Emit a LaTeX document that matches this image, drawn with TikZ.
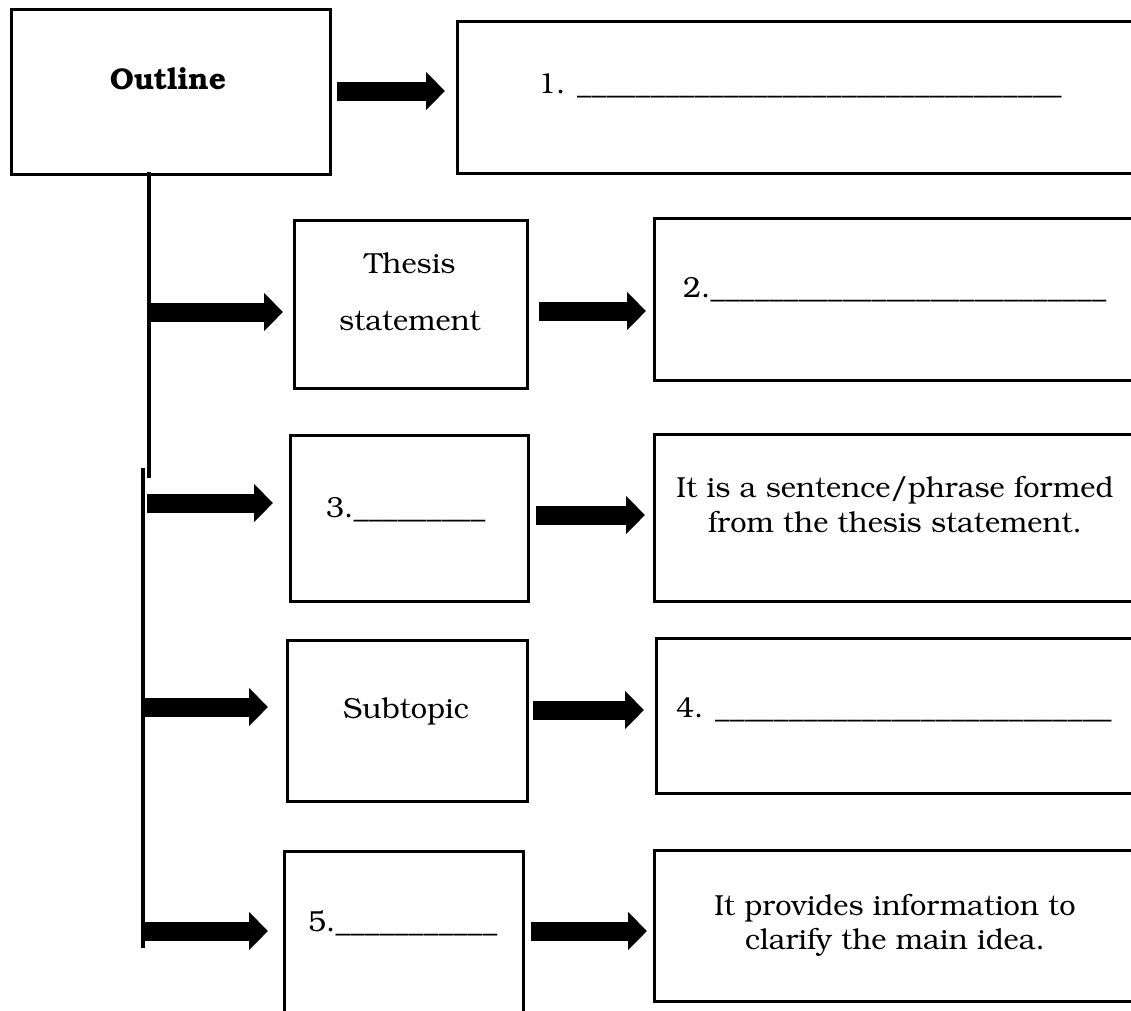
\documentclass[tikz,border=0pt]{standalone}
\usepackage[T1]{fontenc}
\usepackage{bookman}
\usetikzlibrary{arrows.meta}
\newcommand\blankfill[1]{\makebox[#1][l]{\xleaders\hbox{\_}\hfill}}
\begin{document}
\begin{tikzpicture}[x=1pt,y=-1pt,
  box/.style={draw,line width=2.6pt,rectangle,inner sep=0pt,anchor=north west},
  lbl/.style={inner sep=0pt,font=\fontsize{29}{35}\selectfont},
  blk/.style={line width=19pt,-{Triangle[length=19pt,width=37pt]}},
  bar/.style={line width=4pt}]
\useasboundingbox (0,0) rectangle (1131,1010);
\clip (0,0) rectangle (1131,1010);
\fill[white] (0,0) rectangle (1131,1010);

% boxes
\node[box,minimum width=319pt,minimum height=165pt] (outline) at (10,8) {};
\node[box,minimum width=700pt,minimum height=152pt] (b1) at (456,20) {};
\node[box,minimum width=233pt,minimum height=168pt] (thesis) at (293,219) {};
\node[box,minimum width=500pt,minimum height=162pt] (b2) at (653,217) {};
\node[box,minimum width=238pt,minimum height=166pt] (b3) at (289,434) {};
\node[box,minimum width=500pt,minimum height=167pt] (b3r) at (653,433) {};
\node[box,minimum width=240pt,minimum height=161pt] (sub) at (286,639) {};
\node[box,minimum width=500pt,minimum height=155pt] (b4) at (655,637) {};
\node[box,minimum width=239pt,minimum height=200pt] (b5) at (283,850) {};
\node[box,minimum width=500pt,minimum height=151pt] (b5r) at (653,849) {};

% texts
\node[lbl,anchor=base,font=\fontsize{30}{36}\selectfont\bfseries] (toutline) at (168,89) {Outline};
\node[lbl,anchor=base west] (t1) at (538,93) {1. \blankfill{485pt}};
\node[lbl,anchor=base] (tthesis1) at (410,273) {Thesis};
\node[lbl,anchor=base] (tthesis2) at (410,330) {statement};
\node[lbl,anchor=base west] (t2) at (683,297) {2.\blankfill{396pt}};
\node[lbl,anchor=base west] (t3) at (326,517) {3.\blankfill{132pt}};
\node[lbl,anchor=base] (t3r1) at (895,497) {It is a sentence/phrase formed};
\node[lbl,anchor=base] (t3r2) at (895,532) {from the thesis statement.};
\node[lbl,anchor=base] (tsub) at (406,718) {Subtopic};
\node[lbl,anchor=base west] (t4) at (676,717) {4. \blankfill{397pt}};
\node[lbl,anchor=base west] (t5) at (308,931) {5.\blankfill{162pt}};
\node[lbl,anchor=base] (t5r1) at (895,915) {It provides information to};
\node[lbl,anchor=base] (t5r2) at (895,949) {clarify the main idea.};

% spine lines
\coordinate (l1top) at (149,172);
\coordinate (l1bot) at (149,478);
\coordinate (l2top) at (143,468);
\coordinate (l2bot) at (143,948);
\draw[bar] (l1top) -- (l1bot);
\draw[bar] (l2top) -- (l2bot);

% block arrows
\coordinate (a1s) at (337,91);  \coordinate (a1e) at (445,91);
\coordinate (a2s) at (147,312); \coordinate (a2e) at (283,312);
\coordinate (a3s) at (539,311); \coordinate (a3e) at (646,311);
\coordinate (a4s) at (147,503); \coordinate (a4e) at (273,503);
\coordinate (a5s) at (536,515); \coordinate (a5e) at (645,515);
\coordinate (a6s) at (141,707); \coordinate (a6e) at (268,707);
\coordinate (a7s) at (533,710); \coordinate (a7e) at (644,710);
\coordinate (a8s) at (141,931); \coordinate (a8e) at (268,931);
\coordinate (a9s) at (531,931); \coordinate (a9e) at (647,931);
\foreach \i in {1,...,9} {\draw[blk] (a\i s) -- (a\i e);}
\end{tikzpicture}
\end{document}
